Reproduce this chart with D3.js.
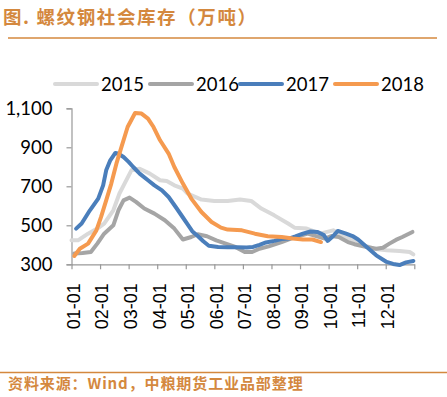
<!DOCTYPE html>
<html>
<head>
<meta charset="utf-8">
<script src="https://cdn.jsdelivr.net/npm/d3@7"></script>
<style>
  body { margin: 0; background: #fff; }
  svg { display: block; }
</style>
</head>
<body>
<div id="app"></div>
<script>
// 螺纹钢社会库存（万吨），按年份分开的周度读数
const years = ['2015', '2016', '2017', '2018'];
const colors = ['#d9d9d9', '#a5a5a5', '#4a7ebb', '#f59a4f'];

const dates2015 = ['01-01','01-08','01-19','01-29','02-05','02-14','02-20','02-25','03-04','03-13','03-24','04-04','04-11','04-19','04-28','05-03','05-18','06-01','06-15','06-28','07-10','07-21','08-04','08-19','08-26','09-08','09-22','10-06','10-20','11-04','11-18','12-02','12-16','12-27','12-31'];
const values2015 = [423,423,457,483,509,577,663,714,782,790,765,731,727,705,688,663,632,625,625,632,625,586,551,509,488,483,457,474,440,406,380,372,368,363,351];

const dates2016 = ['01-04','01-13','01-22','01-29','02-05','02-14','02-19','02-24','03-02','03-09','03-18','03-29','04-09','04-19','04-28','05-07','05-14','05-24','06-03','06-13','06-23','07-03','07-11','07-19','07-29','08-12','08-22','09-09','09-27','10-04','10-12','10-22','10-29','11-11','11-21','11-28','12-05','12-12','12-19','12-30'];
const values2016 = [355,358,363,406,457,500,577,628,642,620,586,560,526,483,427,440,454,444,423,406,389,363,363,380,392,414,432,457,432,445,440,414,403,389,380,385,406,425,440,466];

const dates2017 = ['01-06','01-12','01-21','01-30','02-04','02-07','02-11','02-16','02-19','02-24','03-01','03-06','03-13','03-22','03-29','04-06','04-13','04-21','04-28','05-03','05-08','05-14','05-20','05-26','06-05','06-15','06-25','07-05','07-12','07-19','07-26','08-04','08-12','08-20','08-27','09-04','09-12','09-19','09-26','09-30','10-06','10-11','10-20','10-27','11-02','11-11','11-21','12-02','12-09','12-16','12-23','12-31'];
const values2017 = [483,509,577,637,705,782,833,871,867,850,825,799,765,731,705,679,645,590,540,505,470,445,418,395,389,387,387,386,389,400,412,420,430,432,443,457,468,466,450,420,445,471,457,445,427,389,346,312,302,296,310,317];

const dates2018 = ['01-04','01-10','01-19','01-28','02-02','02-07','02-12','02-17','02-22','02-28','03-08','03-15','03-22','03-28','04-04','04-13','04-19','04-28','05-07','05-18','05-29','06-08','06-15','06-30','07-14','07-28','08-12','08-24','09-04','09-14','09-23'];
const values2018 = [343,380,406,474,543,628,714,816,902,1004,1076,1073,1047,1004,936,868,799,714,637,568,517,488,478,474,457,444,440,432,427,427,414];

const seriesDates = [dates2015, dates2016, dates2017, dates2018];
const seriesValues = [values2015, values2016, values2017, values2018];

const xTickLabels = ['01-01','02-01','03-01','04-01','05-01','06-01','07-01','08-01','09-01','10-01','11-01','12-01'];
const yTicks = [300, 500, 700, 900, 1100];

const titleText = '图. 螺纹钢社会库存（万吨）';
const sourceText = '资料来源：Wind，中粮期货工业品部整理';

function render() {
  const width = 447;
  const height = 397;
  const brown = '#d4883e';
  const plot = { left: 71.5, right: 414.3, top: 108.3, bottom: 264.3 };

  const daysIn = [31, 28, 31, 30, 31, 30, 31, 31, 30, 31, 30, 31];
  // "MM-DD" -> 月份位置（0 = 1月1日, 12 = 次年1月1日）
  const toMonth = s => {
    const [m, d] = s.split('-').map(Number);
    return (m - 1) + (d - 1) / daysIn[m - 1];
  };

  const svg = d3.select('#app').append('svg').attr('width', width).attr('height', height);

  // 标题
  svg.append('text')
    .attr('x', 3)
    .attr('y', 24)
    .attr('fill', brown)
    .attr('font-family', '"Noto Sans CJK SC", sans-serif')
    .attr('font-weight', 700)
    .attr('font-size', 18.5)
    .attr('letter-spacing', 1.6)
    .text(titleText);
  svg.append('line')
    .attr('x1', 8).attr('x2', 437).attr('y1', 38).attr('y2', 38)
    .attr('stroke', brown).attr('stroke-width', 1.5);

  const xScale = d3.scaleLinear([0, 12], [plot.left, plot.right]);
  const yScale = d3.scaleLinear([300, 1100], [plot.bottom, plot.top]);

  // y 轴
  const yAxis = d3.axisLeft(yScale).tickValues(yTicks).tickFormat(d3.format(',')).tickSize(5).tickPadding(14);
  const yG = svg.append('g').attr('transform', `translate(${plot.left},0)`).call(yAxis);
  yG.select('.domain').attr('stroke', '#999').attr('stroke-width', 1.2);
  yG.selectAll('.tick line').attr('stroke', '#999').attr('stroke-width', 1.2);
  yG.selectAll('.tick text')
    .attr('fill', '#000')
    .attr('font-family', 'Lato, sans-serif')
    .attr('font-size', 18.5);

  // x 轴
  const xAxis = d3.axisBottom(xScale).tickValues(d3.range(0, 13)).tickFormat(d => xTickLabels[d] || '').tickSize(5).tickSizeOuter(0);
  const xG = svg.append('g').attr('transform', `translate(0,${plot.bottom})`).call(xAxis);
  xG.select('.domain').attr('stroke', '#999').attr('stroke-width', 1.2);
  xG.selectAll('.tick line').attr('stroke', '#999').attr('stroke-width', 1.2);
  xG.selectAll('.tick text')
    .attr('fill', '#000')
    .attr('font-family', '"Liberation Sans", Arial, sans-serif')
    .attr('font-size', 18)
    .attr('text-anchor', 'end')
    .attr('x', -19)
    .attr('y', 0)
    .attr('dy', '0.35em')
    .attr('transform', 'translate(1.5,0) rotate(-90)');

  // 折线
  const line = d3.line()
    .x(d => xScale(toMonth(d[0])))
    .y(d => yScale(d[1]));

  years.forEach((y, i) => {
    const pts = d3.zip(seriesDates[i], seriesValues[i]);
    svg.append('path')
      .datum(pts)
      .attr('d', line)
      .attr('fill', 'none')
      .attr('stroke', colors[i])
      .attr('stroke-width', 4)
      .attr('stroke-linejoin', 'round')
      .attr('stroke-linecap', 'round');
  });

  // 图例
  const legendX = [55, 150, 240, 335];
  const legend = svg.append('g');
  years.forEach((y, i) => {
    legend.append('line')
      .attr('x1', legendX[i]).attr('x2', legendX[i] + 42)
      .attr('y1', 84).attr('y2', 84)
      .attr('stroke', colors[i]).attr('stroke-width', 4)
      .attr('stroke-linecap', 'round');
    legend.append('text')
      .attr('x', legendX[i] + 46)
      .attr('y', 84)
      .attr('dy', '0.36em')
      .attr('font-family', 'Lato, sans-serif')
      .attr('font-size', 18.5)
      .attr('fill', '#000')
      .text(y);
  });

  // 资料来源
  svg.append('line')
    .attr('x1', 0).attr('x2', 447).attr('y1', 372.5).attr('y2', 372.5)
    .attr('stroke', brown).attr('stroke-width', 1.5);
  svg.append('text')
    .attr('x', 8)
    .attr('y', 389)
    .attr('fill', brown)
    .attr('font-family', '"Noto Sans CJK SC", sans-serif')
    .attr('font-weight', 700)
    .attr('font-size', 15)
    .attr('letter-spacing', 0.9)
    .text(sourceText);
}

render();
</script>
</body>
</html>
